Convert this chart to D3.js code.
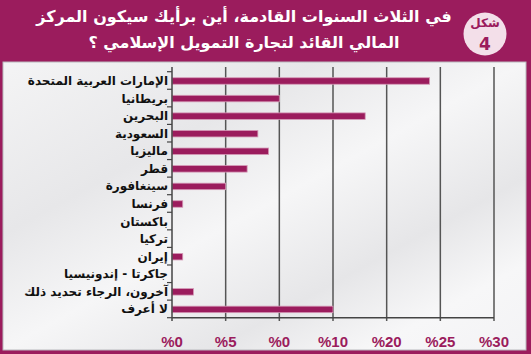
<!DOCTYPE html>
<html>
<head>
<meta charset="utf-8">
<script src="https://cdn.jsdelivr.net/npm/d3@7"></script>
<style>
  body { margin: 0; background: #fff; }
  #chart { position: relative; width: 531px; height: 354px; }
  svg { display: block; position: absolute; left: 0; top: 0; }
  .lbl { position: absolute; direction: rtl; white-space: nowrap; font-family: "DejaVu Sans"; font-weight: bold; }
</style>
</head>
<body>
<div id="chart"></div>
<script>
// chart data
var titleLines = ["في الثلاث السنوات القادمة، أين برأيك سيكون المركز", "المالي القائد لتجارة التمويل الإسلامي ؟"];
var badgeText = ["شكل", "4"];
var categories = ["الإمارات العربية المتحدة", "بريطانيا", "البحرين", "السعودية", "ماليزيا", "قطر", "سينغافورة", "فرنسا", "باكستان", "تركيا", "إيران", "جاكرتا - إندونيسيا", "آخرون، الرجاء تحديد ذلك", "لا أعرف"];
var values = [24, 10, 18, 8, 9, 7, 5, 1, 0, 0, 1, 0, 2, 15];
var tickValues = [0, 5, 10, 15, 20, 25, 30];
var tickLabels = ["%0", "%5", "%0", "%10", "%20", "%25", "%30"];

var W = 531, H = 354;
var magenta = "#9b1c5d";

var chart = d3.select("#chart");
var svg = chart.append("svg")
  .attr("width", W)
  .attr("height", H);

var defs = svg.append("defs");
var grad = defs.append("linearGradient")
  .attr("id", "panelGrad")
  .attr("x1", "0%").attr("y1", "0%")
  .attr("x2", "100%").attr("y2", "100%");
grad.append("stop").attr("offset", "0%").attr("stop-color", "#f4f4f5");
grad.append("stop").attr("offset", "30%").attr("stop-color", "#e7e7e9");
grad.append("stop").attr("offset", "50%").attr("stop-color", "#f6f6f7");
grad.append("stop").attr("offset", "70%").attr("stop-color", "#e6e6e8");
grad.append("stop").attr("offset", "85%").attr("stop-color", "#f7f7f8");
grad.append("stop").attr("offset", "100%").attr("stop-color", "#f3f3f5");

// frame + header
svg.append("rect")
  .attr("width", W).attr("height", H)
  .attr("fill", magenta);

svg.append("rect")
  .attr("x", 3).attr("y", 62)
  .attr("width", W - 8).attr("height", H - 66)
  .attr("fill", "url(#panelGrad)")
  .attr("stroke", "#b9b9bd")
  .attr("stroke-width", 1);

// title (html so the arabic shaping / bidi is handled properly)
chart.selectAll("div.title")
  .data(titleLines)
  .enter().append("div")
    .attr("class", "lbl title")
    .style("left", "0px")
    .style("width", "488px")
    .style("text-align", "center")
    .style("top", function(d, i) { return (5 + i * 26) + "px"; })
    .style("line-height", "24px")
    .style("font-size", "16px")
    .style("color", "#fff")
    .text(function(d) { return d; });

// badge
svg.append("circle")
  .attr("cx", 485).attr("cy", 34).attr("r", 21.5)
  .attr("fill", "#f3dfe9");
chart.append("div")
  .attr("class", "lbl")
  .style("left", "465px").style("width", "40px")
  .style("text-align", "center")
  .style("top", "14px").style("line-height", "18px")
  .style("font-size", "12px")
  .style("color", magenta)
  .text(badgeText[0]);
svg.append("text")
  .attr("x", 485).attr("y", 50)
  .attr("text-anchor", "middle")
  .attr("fill", magenta)
  .style("font-family", "DejaVu Sans")
  .style("font-weight", "bold")
  .style("font-size", "17px")
  .text(badgeText[1]);

// scales
var x = d3.scaleLinear()
  .domain([0, 30])
  .range([172, 494]);

var y = d3.scaleBand()
  .domain(categories)
  .range([71.7, 317.7]);

var barH = 6.5;

// gridlines
svg.append("g")
  .selectAll("line")
  .data(tickValues.slice(1))
  .enter().append("line")
    .attr("x1", function(d) { return x(d); })
    .attr("x2", function(d) { return x(d); })
    .attr("y1", 67)
    .attr("y2", 321)
    .attr("stroke", "#555")
    .attr("stroke-width", 1.5);

// bars
svg.append("g")
  .selectAll("rect")
  .data(values)
  .enter().append("rect")
    .attr("x", x(0))
    .attr("y", function(d, i) { return y(categories[i]) + y.bandwidth() / 2 - barH / 2 + 0.5; })
    .attr("width", function(d) { return x(d) - x(0); })
    .attr("height", barH)
    .attr("fill", magenta)
    .attr("stroke", "#d59ab7")
    .attr("stroke-width", function(d) { return d > 0 ? 0.8 : 0; });

// y axis
var yAxis = svg.append("g")
  .attr("transform", "translate(" + x(0) + ",0)");
yAxis.append("line")
  .attr("x1", 0).attr("x2", 0)
  .attr("y1", 67).attr("y2", 321)
  .attr("stroke", "#444").attr("stroke-width", 1.5);
yAxis.selectAll("line.tick")
  .data(categories.concat(["end"]))
  .enter().append("line")
    .attr("class", "tick")
    .attr("x1", -5).attr("x2", 0)
    .attr("y1", function(d, i) { return 71.7 + i * y.step(); })
    .attr("y2", function(d, i) { return 71.7 + i * y.step(); })
    .attr("stroke", "#444").attr("stroke-width", 1.2);

// x axis line
svg.append("line")
  .attr("x1", x(0)).attr("x2", x(30))
  .attr("y1", 317.7).attr("y2", 317.7)
  .attr("stroke", "#444").attr("stroke-width", 1.5);

// category labels
chart.selectAll("div.cat")
  .data(categories)
  .enter().append("div")
    .attr("class", "lbl cat")
    .style("right", (W - 168) + "px")
    .style("top", function(d) { return (y(d) + y.bandwidth() / 2 - 8.5) + "px"; })
    .style("line-height", "18px")
    .style("font-size", "12px")
    .style("color", "#111")
    .text(function(d) { return d; });

// tick labels
svg.append("g")
  .selectAll("text")
  .data(tickValues)
  .enter().append("text")
    .attr("x", function(d) { return x(d); })
    .attr("y", 347)
    .attr("text-anchor", "middle")
    .attr("fill", magenta)
    .style("font-family", "Liberation Sans")
    .style("font-weight", "bold")
    .style("font-size", "15px")
    .text(function(d, i) { return tickLabels[i]; });
</script>
</body>
</html>
